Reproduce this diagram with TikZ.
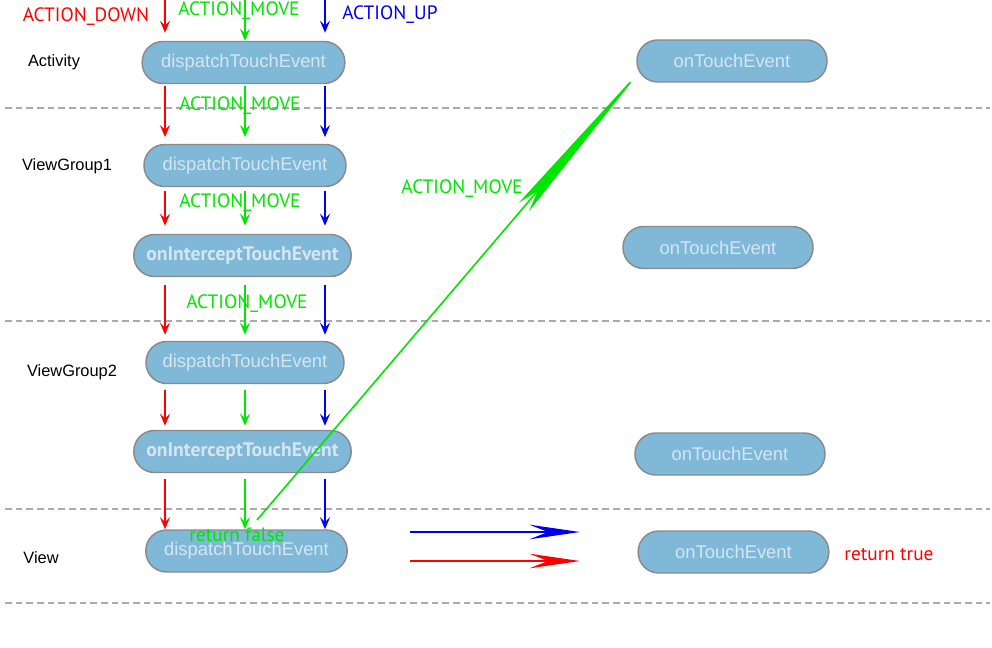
\documentclass[tikz,border=0pt]{standalone}
\usepackage{fontspec}
\setmainfont{Liberation Sans}
\newfontfamily\labfont{PT Sans}
\usetikzlibrary{arrows.meta}
\definecolor{pillfill}{HTML}{80B8D8}
\definecolor{pilldraw}{HTML}{8A8A8A}
\definecolor{pilltext}{HTML}{D4E6F2}
\definecolor{gr}{HTML}{00E600}
\definecolor{rd}{HTML}{FF0000}
\definecolor{bl}{HTML}{0000F0}
\definecolor{sepgray}{HTML}{AAAAAA}
\begin{document}
\begin{tikzpicture}[x=0.75pt,y=-0.75pt,
  pill/.style={draw=pilldraw,line width=1.1pt,fill=pillfill,rounded corners=15.5pt,
    minimum height=31.5pt,inner sep=0pt,text=pilltext,font=\fontsize{13.8}{15}\selectfont},
  pillb/.style={pill,font=\labfont\bfseries\fontsize{14.7}{16}\selectfont},
  layer/.style={font=\fontsize{12.3}{14}\selectfont,text=black,inner sep=0pt},
  lab/.style={font=\labfont\fontsize{14.5}{16}\selectfont,inner sep=0pt},
  sep/.style={draw=sepgray,line width=0.8pt,dash pattern=on 5pt off 3pt},
  vt/.style={line width=1.2pt,-{Stealth[length=9pt,width=7.5pt,inset=3.5pt]}},
  ht/.style={line width=1.5pt,-{Stealth[length=38pt,width=11pt,inset=14pt]}}]
\useasboundingbox (0,0) rectangle (992,647);
% separators
\draw[sep] (5,108) -- (990,108);
\draw[sep] (5,321) -- (990,321);
\draw[sep] (5,509) -- (990,509);
\draw[sep] (5,603) -- (990,603);
% layer names
\node[layer] (lA) at (54,62) {Activity};
\node[layer] (lG1) at (67,166) {ViewGroup1};
\node[layer] (lG2) at (72,372) {ViewGroup2};
\node[layer] (lV) at (41,558) {View};
% nodes
\node[pill,minimum width=152pt] (ad) at (243.5,62.5) {dispatchTouchEvent};
\node[pill,minimum width=142.5pt] (at) at (732,61) {onTouchEvent};
\node[pill,minimum width=151.5pt] (g1d) at (245,165.5) {dispatchTouchEvent};
\node[pillb,minimum width=163pt] (g1i) at (242.5,255.5) {onInterceptTouchEvent};
\node[pill,minimum width=142.5pt] (g1t) at (718,247.5) {onTouchEvent};
\node[pill,minimum width=148.5pt] (g2d) at (245,362.5) {dispatchTouchEvent};
\node[pillb,minimum width=163pt] (g2i) at (242.5,451.5) {onInterceptTouchEvent};
\node[pill,minimum width=142.5pt] (g2t) at (730,454) {onTouchEvent};
\node[pill,minimum width=151pt] (vd) at (246.5,551) {\raisebox{-2pt}{dispatchTouchEvent}};
\node[pill,minimum width=143pt] (vt) at (733.5,552) {onTouchEvent};
% columns
\coordinate (cR) at (165,0);
\coordinate (cG) at (245,0);
\coordinate (cB) at (325,0);
% top arrows
\draw[vt,rd] (cR) -- ([yshift=6pt]ad.north -| cR);
\draw[vt,gr] (cG) -- (ad.north -| cG);
\draw[vt,bl] (cB) -- ([yshift=6pt]ad.north -| cB);
\node[lab,text=rd] (down) at (86,17) {ACTION\_DOWN};
\node[lab,text=gr] (m0) at (239,11) {ACTION\_MOVE};
\node[lab,text=bl] (up) at (390,15) {ACTION\_UP};
% column arrows
\foreach \c/\col in {cR/rd,cG/gr,cB/bl}{
  \draw[vt,\col,shorten <=1.5pt,shorten >=5pt] (ad.south -| \c) -- (g1d.north -| \c);
  \draw[vt,\col,shorten <=3pt,shorten >=6pt] (g1d.south -| \c) -- (g1i.north -| \c);
  \draw[vt,\col,shorten <=6pt,shorten >=4.5pt] (g1i.south -| \c) -- (g2d.north -| \c);
  \draw[vt,\col,shorten <=4pt,shorten >=3pt] (g2d.south -| \c) -- (g2i.north -| \c);
  \draw[vt,\col,shorten <=4pt,shorten >=0pt] (g2i.south -| \c) -- (vd.north -| \c);
}
\node[lab,text=gr] (m1) at (240,106) {ACTION\_MOVE};
\node[lab,text=gr] (m2) at (240,203) {ACTION\_MOVE};
\node[lab,text=gr] (m3) at (247,304) {ACTION\_MOVE};
% return false / big green arrow
\node[lab,text=gr] (rf) at (237,535) {return false};
\coordinate (gs) at (257,520);
\coordinate (ge) at (645,65);
\draw[gr,line width=1.2pt,-{Stealth[length=140pt,width=10pt,inset=16pt]}] (gs) -- (ge);
\node[lab,text=gr] (m4) at (462,189) {ACTION\_MOVE};
% bottom horizontal arrows
\coordinate (bs) at (410,532);
\coordinate (be) at (580,532);
\coordinate (rs) at (410,561);
\coordinate (re) at (580,561);
\draw[ht,bl] (bs) -- (be);
\draw[ht,rd] (rs) -- (re);
\node[lab,text=rd] (rt) at (889,555) {return true};
\end{tikzpicture}
\end{document}
